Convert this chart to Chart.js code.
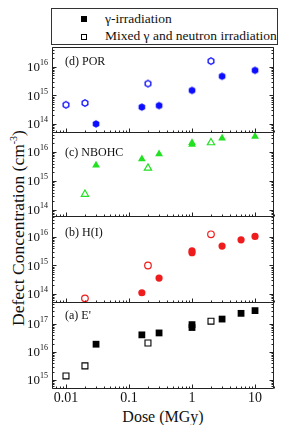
<!DOCTYPE html>
<html>
<head>
<meta charset="utf-8">
<script src="https://cdn.jsdelivr.net/npm/chart.js@4.4.0/dist/chart.umd.min.js"></script>
<style>
  body { margin: 0; background: #fff; }
  #wrap { position: relative; width: 288px; height: 425px; font-family: "Liberation Serif", "Times New Roman", serif; color: #111; overflow: hidden; }
  #wrap canvas { position: absolute; left: 0; top: 0; }
  #legend { position: absolute; left: 51px; top: 8px; width: 227px; height: 37px; border: 1px solid #333; box-sizing: border-box; font-size: 13.5px; }
  .row { position: absolute; left: 0; height: 18px; line-height: 18px; white-space: nowrap; }
  .mk { position: absolute; box-sizing: border-box; }
  .txt { position: absolute; left: 53px; }
  #ytitle { position: absolute; width: 260px; left: -116px; top: 218px; height: 20px; line-height: 20px; text-align: center; font-size: 17.5px; transform: rotate(-90deg); white-space: nowrap; }
  #ytitle sup { font-size: 10px; }
  #xtitle { position: absolute; left: 52px; width: 222px; top: 407px; text-align: center; font-size: 16px; line-height: 20px; }
</style>
</head>
<body>
<div id="wrap">
  <div id="legend"></div>
  <div id="ytitle">Defect Concentration (cm<sup>-3</sup>)</div>
  <div id="xtitle">Dose (MGy)</div>
</div>
<script>
// dose axis
const xMin = 0.006, xMax = 20;
const xTickLabels = ['0.01', '0.1', '1', '10'];
const legendLabels = ['\u03b3-irradiation', 'Mixed \u03b3 and neutron irradiation'];

// (d) POR
const porGammaDose = [0.03, 0.16, 0.3, 1, 3, 10];
const porGamma = [1.0e14, 3.9e14, 4.4e14, 1.5e15, 4.7e15, 7.6e15];
const porMixedDose = [0.01, 0.02, 0.2, 2];
const porMixed = [4.7e14, 5.4e14, 2.6e15, 1.6e16];

// (c) NBOHC
const nbohcGammaDose = [0.03, 0.16, 0.3, 1, 1, 3, 10];
const nbohcGamma = [3.5e15, 5.7e15, 8.5e15, 1.8e16, 2.1e16, 3.0e16, 3.4e16];
const nbohcMixedDose = [0.02, 0.2, 2];
const nbohcMixed = [3.5e14, 2.8e15, 2.1e16];

// (b) H(I)
const hiGammaDose = [0.16, 0.3, 1, 1, 3, 6, 10];
const hiGamma = [1.1e14, 3.6e14, 2.8e15, 3.3e15, 4.8e15, 8.0e15, 1.05e16];
const hiMixedDose = [0.02, 0.2, 2];
const hiMixed = [7e13, 1.0e15, 1.25e16];

// (a) E'
const eGammaDose = [0.03, 0.16, 0.3, 1, 1, 3, 6, 10];
const eGamma = [1.9e16, 4.1e16, 4.8e16, 7.5e16, 9.5e16, 1.5e17, 2.4e17, 3.0e17];
const eMixedDose = [0.01, 0.02, 0.2, 2];
const eMixed = [1.4e15, 3.2e15, 2.1e16, 1.26e17];

// y ranges and labelled decades, top panel first
const panelNames = ['(d) POR', '(c) NBOHC', '(b) H(I)', "(a) E'"];
const yMins = [5.2e13, 6.2e13, 5.2e13, 5.2e14];
const yMaxs = [5.0e16, 4.9e16, 5.5e16, 6.1e17];
const yTickExps = [[14, 15, 16], [14, 15, 16], [14, 15, 16], [15, 16, 17]];

(function () {
  const W = 288, H = 425;
  const wrap = document.getElementById('wrap');
  const tops = [47, 132, 216, 302];
  const bottoms = [132, 216, 302, 388];
  const labelY = [62, 153, 233, 316];

  // legend
  const leg = document.getElementById('legend');
  leg.innerHTML = `
    <div class="row" style="top:1px;width:100%"><span class="mk" style="left:29px;top:6px;width:6px;height:6px;background:#000"></span><span class="txt">${legendLabels[0]}</span></div>
    <div class="row" style="top:18px;width:100%"><span class="mk" style="left:29px;top:7px;width:6px;height:6px;border:1px solid #000"></span><span class="txt">${legendLabels[1]}</span></div>`;

  function hexImage(color, filled) {
    const c = document.createElement('canvas');
    c.width = c.height = 10;
    const g = c.getContext('2d');
    g.beginPath();
    for (let i = 0; i < 6; i++) {
      const a = Math.PI / 6 + i * Math.PI / 3;
      g.lineTo(5 + (filled ? 3.8 : 3.3) * Math.cos(a), 5 + (filled ? 3.8 : 3.3) * Math.sin(a));
    }
    g.closePath();
    if (filled) { g.fillStyle = color; g.fill(); }
    else { g.fillStyle = '#fff'; g.fill(); g.strokeStyle = color; g.lineWidth = 1.3; g.stroke(); }
    return c;
  }

  const pts = (xs, ys) => xs.map((x, i) => ({ x, y: ys[i] }));

  const blue = '#0d0dff', green = '#22e022', red = '#ee1c1c', black = '#000';
  const panels = [
    { g: pts(porGammaDose, porGamma), m: pts(porMixedDose, porMixed), color: blue,
      gStyle: { pointStyle: hexImage(blue, true) }, mStyle: { pointStyle: hexImage(blue, false) } },
    { g: pts(nbohcGammaDose, nbohcGamma), m: pts(nbohcMixedDose, nbohcMixed), color: green,
      gStyle: { pointStyle: 'triangle', pointRadius: 4.5 }, mStyle: { pointStyle: 'triangle', pointRadius: 4.2, pointBorderWidth: 1.2 } },
    { g: pts(hiGammaDose, hiGamma), m: pts(hiMixedDose, hiMixed), color: red,
      gStyle: { pointStyle: 'circle', pointRadius: 3.6 }, mStyle: { pointStyle: 'circle', pointRadius: 3.3, pointBorderWidth: 1.2 } },
    { g: pts(eGammaDose, eGamma), m: pts(eMixedDose, eMixed), color: black,
      gStyle: { pointStyle: 'rect', pointRadius: 4.8 }, mStyle: { pointStyle: 'rect', pointRadius: 4.2, pointBorderWidth: 1.1 } }
  ];

  function axisPlugin(idx) {
    return {
      id: 'axisFrame' + idx,
      afterDraw(chart) {
        const ctx = chart.ctx;
        const a = chart.chartArea;
        const xs = chart.scales.x, ys = chart.scales.y;
        const L = Math.round(a.left) + 0.5, R = Math.round(a.right) - 0.5;
        const T = Math.round(a.top) + 0.5, B = Math.round(a.bottom) + 0.5;
        ctx.save();
        ctx.strokeStyle = '#222';
        ctx.lineWidth = 1;
        ctx.beginPath();
        ctx.rect(L, T, R - L, B - T);
        // log ticks, pointing inward
        for (let e = Math.floor(Math.log10(xs.min)); e <= Math.ceil(Math.log10(xs.max)); e++) {
          for (let m = 1; m <= 9; m++) {
            const v = m * Math.pow(10, e);
            if (v < xs.min || v > xs.max) continue;
            const px = Math.round(xs.getPixelForValue(v)) + 0.5;
            const len = m === 1 ? 4 : 2;
            ctx.moveTo(px, B); ctx.lineTo(px, B - len);
          }
        }
        for (let e = Math.floor(Math.log10(ys.min)); e <= Math.ceil(Math.log10(ys.max)); e++) {
          for (let m = 1; m <= 9; m++) {
            const v = m * Math.pow(10, e);
            if (v < ys.min || v > ys.max) continue;
            const py = Math.round(ys.getPixelForValue(v)) + 0.5;
            const len = m === 1 ? 4 : 2;
            ctx.moveTo(L, py); ctx.lineTo(L + len, py);
            ctx.moveTo(R, py); ctx.lineTo(R - len, py);
          }
        }
        ctx.stroke();

        // y labels 10^n
        ctx.fillStyle = '#111';
        ctx.textBaseline = 'middle';
        yTickExps[idx].forEach(e => {
          const py = ys.getPixelForValue(Math.pow(10, e));
          ctx.font = '8px "Liberation Serif", serif';
          ctx.textAlign = 'right';
          const sup = String(e);
          ctx.fillText(sup, a.left - 4, py - 4);
          const sw = ctx.measureText(sup).width;
          ctx.font = '13px "Liberation Serif", serif';
          ctx.fillText('10', a.left - 4 - sw, py + 1);
        });

        // panel name
        ctx.font = '12px "Liberation Serif", serif';
        ctx.textAlign = 'left';
        ctx.fillText(panelNames[idx], a.left + 13, labelY[idx]);

        // dose labels on the bottom panel
        if (idx === 3) {
          ctx.font = '14px "Liberation Serif", serif';
          ctx.textAlign = 'center';
          xTickLabels.forEach(t => {
            ctx.fillText(t, xs.getPixelForValue(parseFloat(t)), a.bottom + 10);
          });
        }
        ctx.restore();
      }
    };
  }

  panels.forEach((p, idx) => {
    const cv = document.createElement('canvas');
    cv.width = W; cv.height = H;
    wrap.appendChild(cv);
    new Chart(cv, {
      type: 'scatter',
      data: {
        datasets: [
          Object.assign({ label: legendLabels[0], data: p.g, backgroundColor: p.color, borderColor: p.color, pointBorderWidth: 0, clip: false }, p.gStyle),
          Object.assign({ label: legendLabels[1], data: p.m, backgroundColor: '#fff', borderColor: p.color, pointBorderWidth: 1.3, clip: false }, p.mStyle)
        ]
      },
      options: {
        responsive: false,
        animation: false,
        devicePixelRatio: 1,
        layout: { padding: { left: 52, right: 14, top: tops[idx], bottom: H - bottoms[idx] } },
        scales: {
          x: { type: 'logarithmic', min: xMin, max: xMax, display: false },
          y: { type: 'logarithmic', min: yMins[idx], max: yMaxs[idx], display: false }
        },
        plugins: { legend: { display: false }, tooltip: { enabled: false } }
      },
      plugins: [axisPlugin(idx)]
    });
  });
})();
</script>
</body>
</html>
